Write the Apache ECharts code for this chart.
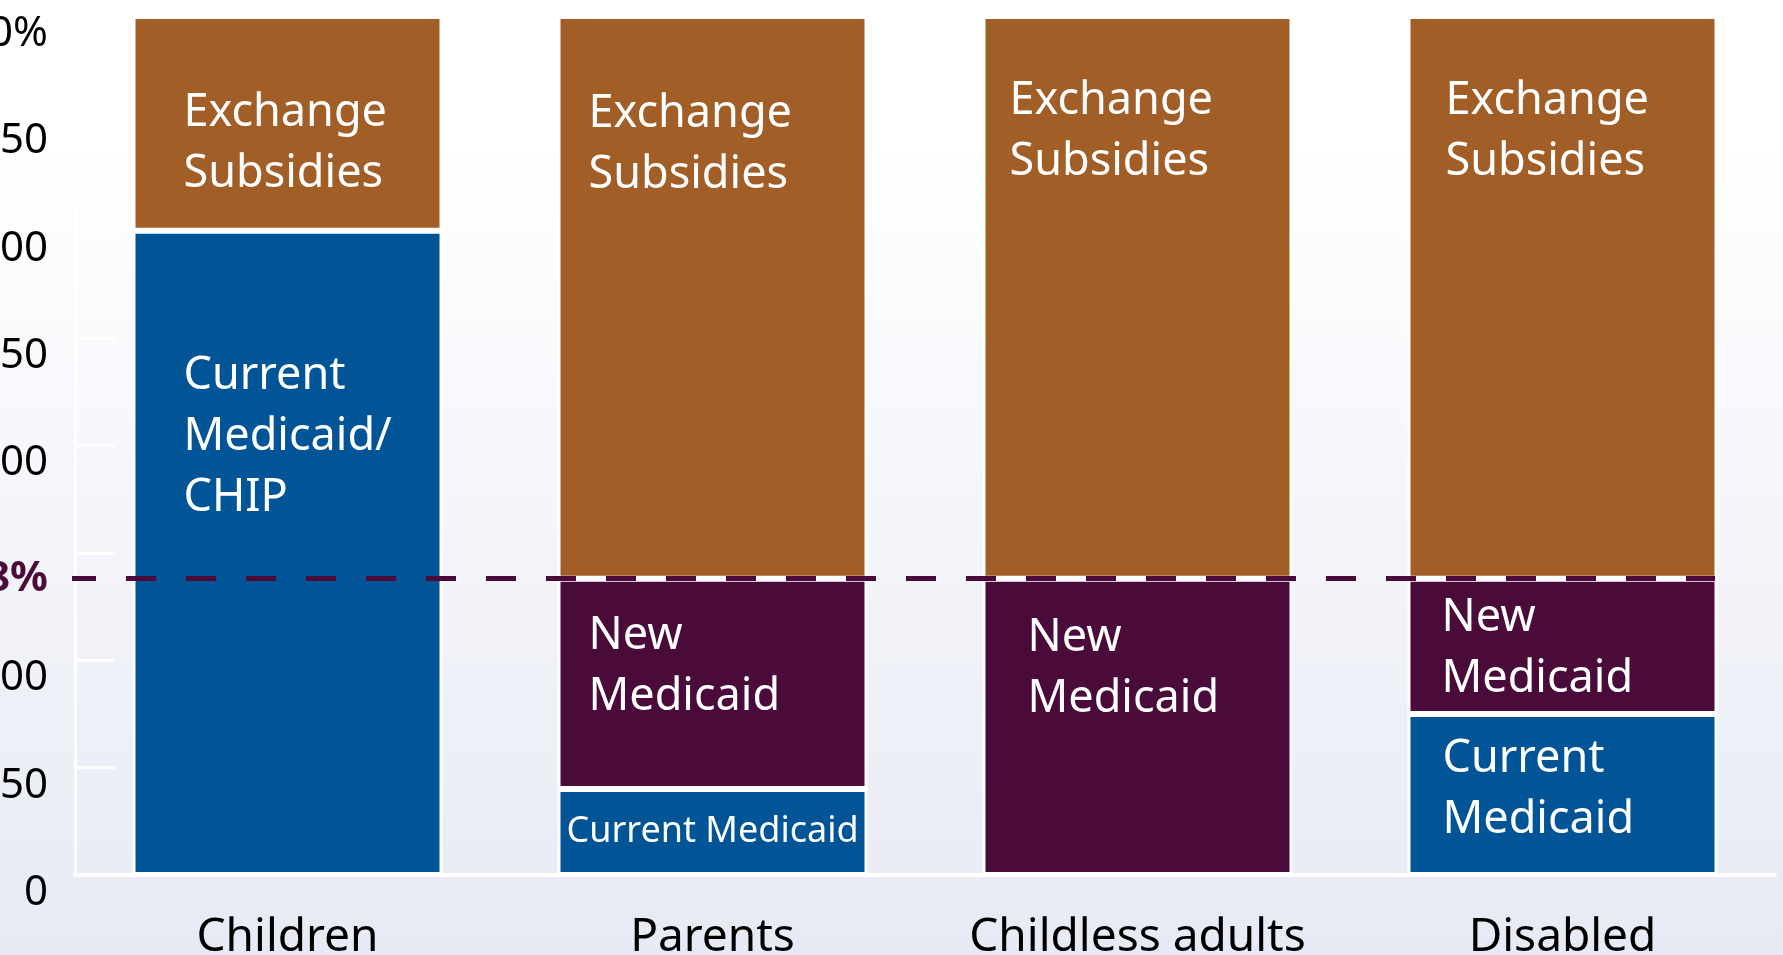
<!DOCTYPE html>
<html>
<head>
<meta charset="utf-8">
<script src="https://cdn.jsdelivr.net/npm/echarts@6/dist/echarts.min.js"></script>
<style>
html, body { margin: 0; padding: 0; }
#main { width: 1783px; height: 955px; }
</style>
</head>
<body>
<div id="main"></div>
<script>
var categories = ['Children', 'Parents', 'Childless adults', 'Disabled']
var currentMedicaid = [300, 40, 0, 75]
var newMedicaid = [0, 98, 138, 63]
var exchangeSubsidies = [100, 262, 262, 262]
var yTickValues = [0, 50, 100, 150, 200, 250, 300, 350, 400]
var yTickLabels = ['0', '50', '100', '', '200', '250', '300', '350', '400%']
var threshold = 138

var currentText = ['Current\nMedicaid/\nCHIP', 'Current Medicaid', '', 'Current\nMedicaid']
var newText = ['', 'New\nMedicaid', 'New\nMedicaid', 'New\nMedicaid']
var exchangeText = ['Exchange\nSubsidies', 'Exchange\nSubsidies', 'Exchange\nSubsidies', 'Exchange\nSubsidies']

// where the text sits inside each block, px from the block's top-left
var currentPos = [[51, 115], 'inside', null, [35, 15]]
var newPos = [null, [31, 27], [45, 29], [34, 9]]
var exchangePos = [[51, 67], [31, 68], [27, 55], [38, 55]]

var FONT = 'Noto Sans'
var orange = '#a25e27'
var blue = '#015496'
var purple = '#4a0b3a'

function buildData (values, texts, positions) {
  return values.map(function (v, i) {
    var item = { value: v }
    if (!texts[i]) {
      item.label = { show: false }
    } else if (positions[i] === 'inside') {
      item.label = {
        show: true,
        formatter: texts[i],
        position: 'inside',
        align: 'center',
        verticalAlign: 'middle',
        fontSize: 36
      }
    } else {
      item.label = {
        show: true,
        formatter: texts[i],
        position: positions[i],
        align: 'left',
        verticalAlign: 'top'
      }
    }
    return item
  })
}

var barLabel = {
  color: '#ffffff',
  fontFamily: FONT,
  fontSize: 45,
  lineHeight: 61
}

var myChart = echarts.init(document.getElementById('main'))
myChart.setOption({
  animation: false,
  backgroundColor: {
    type: 'linear',
    x: 0, y: 0, x2: 0, y2: 1,
    colorStops: [
      { offset: 0, color: '#ffffff' },
      { offset: 0.15, color: '#ffffff' },
      { offset: 1, color: '#e7eaf4' }
    ]
  },
  grid: {
    left: 75,
    right: 8,
    top: 16,
    bottom: 80,
    containLabel: false,
    outerBoundsMode: 'none'
  },
  xAxis: {
    type: 'category',
    data: categories,
    axisLine: { lineStyle: { color: '#ffffff', width: 4 } },
    axisTick: {
      inside: true,
      length: 20,
      lineStyle: { color: '#ffffff', width: 3 }
    },
    axisLabel: {
      interval: 0,
      color: '#000000',
      fontFamily: FONT,
      fontSize: 46,
      margin: 40
    }
  },
  yAxis: {
    type: 'value',
    min: 0,
    max: 400,
    interval: 50,
    splitLine: { show: false },
    axisLine: { show: true, lineStyle: { color: '#ffffff', width: 3 } },
    axisTick: {
      show: true,
      inside: true,
      length: 40,
      lineStyle: { color: '#ffffff', width: 3 }
    },
    axisLabel: {
      color: '#000000',
      fontFamily: FONT,
      fontSize: 42,
      margin: 27,
      verticalAlign: 'top',
      lineHeight: 36,
      formatter: function (v) {
        var i = yTickValues.indexOf(v)
        return i >= 0 ? yTickLabels[i] : ''
      }
    }
  },
  series: [
    {
      name: 'Current Medicaid',
      type: 'bar',
      stack: 'total',
      barWidth: 310,
      itemStyle: { color: blue, borderColor: '#ffffff', borderWidth: 3 },
      label: barLabel,
      emphasis: { disabled: true },
      data: buildData(currentMedicaid, currentText, currentPos)
    },
    {
      name: 'New Medicaid',
      type: 'bar',
      stack: 'total',
      itemStyle: { color: purple, borderColor: '#ffffff', borderWidth: 3 },
      label: barLabel,
      emphasis: { disabled: true },
      data: buildData(newMedicaid, newText, newPos)
    },
    {
      name: 'Exchange Subsidies',
      type: 'bar',
      stack: 'total',
      itemStyle: { color: orange, borderColor: '#ffffff', borderWidth: 3 },
      label: barLabel,
      emphasis: { disabled: true },
      data: buildData(exchangeSubsidies, exchangeText, exchangePos),
      markLine: {
        silent: true,
        symbol: ['none', 'none'],
        lineStyle: { color: purple, width: 5, type: [30, 30], dashOffset: 6 },
        label: {
          show: true,
          position: 'start',
          distance: 24,
          padding: [0, 0, 8, 0],
          formatter: threshold + '%',
          color: purple,
          fontFamily: FONT,
          fontWeight: 'bold',
          fontSize: 42
        },
        data: [
          [
            { coord: ['Children', threshold], x: 72 },
            { coord: ['Disabled', threshold], x: 1715 }
          ]
        ]
      }
    }
  ]
})
</script>
</body>
</html>
